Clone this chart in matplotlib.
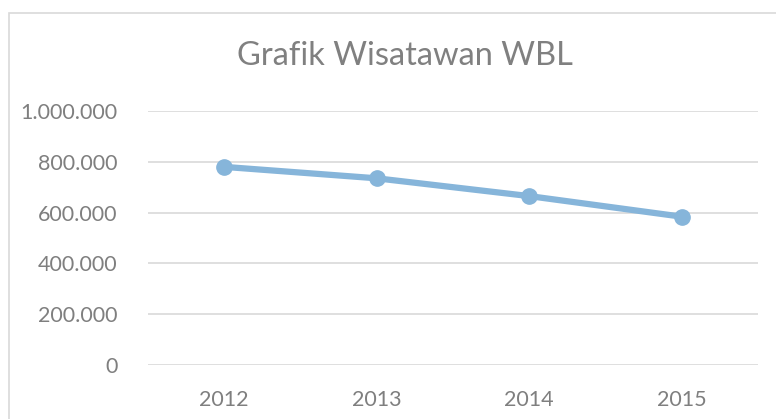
import matplotlib
matplotlib.use("Agg")
import matplotlib.pyplot as plt
from matplotlib.ticker import FuncFormatter
from matplotlib.patches import Rectangle

years = ["2012", "2013", "2014", "2015"]
visitors = [780000, 735000, 665000, 584000]
yticks = [0, 200000, 400000, 600000, 800000, 1000000]
title = "Grafik Wisatawan WBL"

plt.rcParams['font.family'] = ['Lato', 'DejaVu Sans']

W, H = 776, 419
fig = plt.figure(figsize=(W / 100, H / 100), dpi=100)
fig.patch.set_facecolor("white")

# outer chart frame (extends beyond the image on right/bottom)
fig.patches.append(Rectangle((9 / W, -0.1), 1.2, 1 - 13 / H + 0.1,
                             transform=fig.transFigure, fill=False,
                             edgecolor="#d9d9d9", linewidth=1.2))

ax = fig.add_axes([148 / W, 1 - 365 / H, (758 - 148) / W, (365 - 111) / H])
ax.set_facecolor("none")
x = list(range(len(years)))
ax.plot(x, visitors, color="#86b5da", linewidth=4.5, marker="o",
        markersize=11, markerfacecolor="#86b5da", markeredgecolor="#86b5da",
        solid_capstyle="round", zorder=3)

ax.set_xlim(-0.5, len(years) - 0.5)
ax.set_ylim(0, 1000000)
ax.set_yticks(yticks)
ax.yaxis.set_major_formatter(FuncFormatter(lambda v, p: f"{int(v):,}".replace(",", ".")))
ax.set_xticks(x)
ax.set_xticklabels(years)
ax.grid(axis="y", color="#d9d9d9", linewidth=1.2)
ax.set_axisbelow(True)
for s in ax.spines.values():
    s.set_visible(False)
ax.tick_params(axis="both", length=0, labelsize=15.5, colors="#7f7f7f")
ax.tick_params(axis="y", pad=22)
ax.tick_params(axis="x", pad=18)

fig.text(405 / W, 1 - 56 / H, title, ha="center", va="center",
         fontsize=23.5, color="#808080")

fig.savefig("out.png", dpi=100)
